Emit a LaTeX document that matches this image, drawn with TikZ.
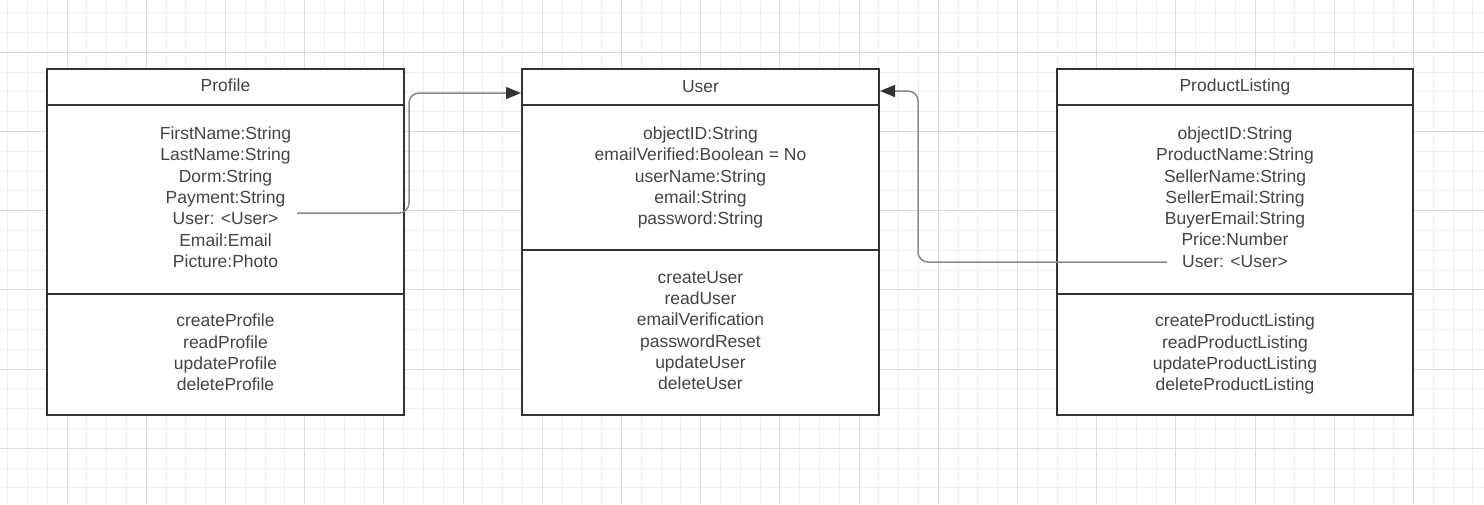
\documentclass[tikz,border=0pt]{standalone}
\usepackage{fontspec}
\setmainfont{Liberation Sans}
\usetikzlibrary{arrows.meta}
\definecolor{gridminor}{HTML}{EEEEEE}
\definecolor{gridmajor}{HTML}{DCDCDC}
\definecolor{ink}{HTML}{333333}
\definecolor{txt}{HTML}{444444}
\definecolor{conn}{HTML}{8A8A8A}
\begin{document}
\begin{tikzpicture}[x=1pt,y=-1pt,
  section/.style={draw=ink, line width=2pt, fill=white, inner sep=0pt, align=center,
    text=txt, font=\fontsize{17.5}{21.3}\selectfont},
  wide/.style={minimum width=357pt},
  titlesec/.style={minimum height=36pt},
  link/.style={draw=conn, line width=1.5pt, rounded corners=10pt,
    -{Triangle[length=15pt,width=12pt,color=ink]}}]
\useasboundingbox (0,0) rectangle (1484,504);
\fill[white] (0,0) rectangle (1484,504);
\foreach \i in {0,...,75} \draw[gridminor, line width=1pt] ({7.6+19.8*\i},0) -- ({7.6+19.8*\i},504);
\foreach \j in {0,...,25} \draw[gridminor, line width=1pt] (0,{12.7+19.8*\j}) -- (1484,{12.7+19.8*\j});
\foreach \i in {0,...,18} \draw[gridmajor, line width=1pt] ({67+79.2*\i},0) -- ({67+79.2*\i},504);
\foreach \j in {0,...,6} \draw[gridmajor, line width=1pt] (0,{52.3+79.2*\j}) -- (1484,{52.3+79.2*\j});

% Profile
\node[section, wide, titlesec, text depth=4pt] (proftitle) at (225.5,87) {Profile};
\node[section, wide, minimum height=189pt, text depth=4.5pt] (profattr) at (225.5,199.5)
  {FirstName:String\\LastName:String\\Dorm:String\\Payment:String\\User: <User>\\Email:Email\\Picture:Photo};
\node[section, wide, minimum height=121pt, text depth=4pt] (profmeth) at (225.5,354.5)
  {createProfile\\readProfile\\updateProfile\\deleteProfile};

% User
\node[section, wide, titlesec] (usertitle) at (700.5,87) {User};
\node[section, wide, minimum height=145pt] (userattr) at (700.5,177.5)
  {objectID:String\\emailVerified:Boolean = No\\userName:String\\email:String\\password:String};
\node[section, wide, minimum height=165pt, text depth=4pt] (usermeth) at (700.5,332.5)
  {createUser\\readUser\\emailVerification\\passwordReset\\updateUser\\deleteUser};

% ProductListing
\node[section, minimum width=356pt, titlesec] (prodtitle) at (1235,87) {ProductListing};
\node[section, minimum width=356pt, minimum height=189pt, text depth=5pt] (prodattr) at (1235,199.5)
  {objectID:String\\ProductName:String\\SellerName:String\\SellerEmail:String\\BuyerEmail:String\\Price:Number\\User: <User>};
\node[section, minimum width=356pt, minimum height=121pt, text depth=4pt] (prodmeth) at (1235,354.5)
  {createProductListing\\readProductListing\\updateProductListing\\deleteProductListing};

% connectors
\coordinate (s1) at (297,213);
\coordinate (s2) at (1167,262);
\draw[link] (s1) -- (409,213) -- (409,93) -- ([yshift=-6pt]usertitle.west);
\draw[link] (s2) -- (918,262) -- (918,91) -- ([yshift=-4pt]usertitle.east);
\end{tikzpicture}
\end{document}
